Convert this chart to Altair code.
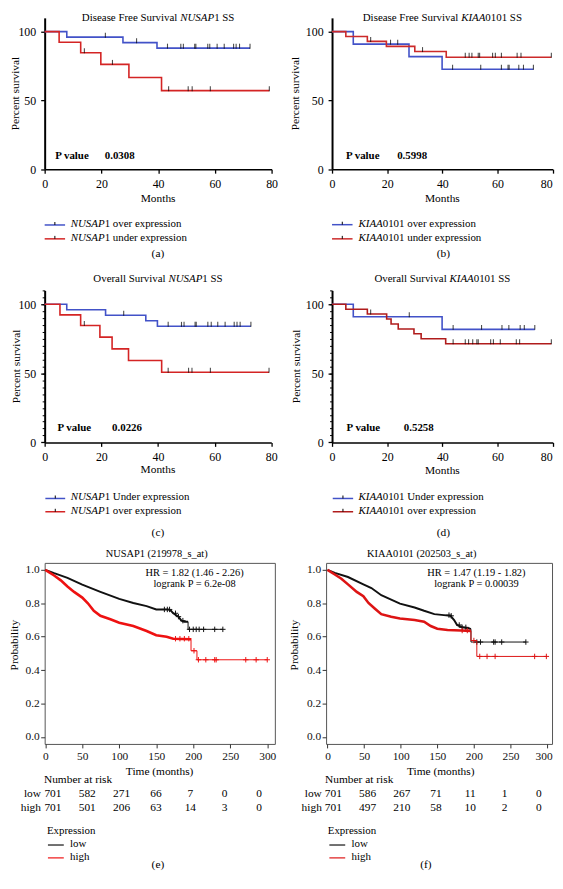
import altair as alt
import pandas as pd

FONT = "Liberation Serif"
BLUE = "#4252c8"

# ---------------- (a) Disease Free Survival NUSAP1 ----------------
A_TITLE = [("Disease Free Survival ", 9.026, False), ("NUSAP", 3.111, True), ("1 SS", 1.862, False)]
A_BLUE_T = [0, 7.8, 27.6, 39.6, 72.4]
A_BLUE_S = [100, 96.0, 92.0, 88.0, 88.0]
A_BLUE_CENS = [21.4, 32.4, 43.3, 48.0, 48.9, 52.9, 53.3, 57.5, 58.2, 60.8, 63.3, 66.6, 67.5, 68.7, 72.4]
A_RED_T = [0, 5.1, 12.7, 19.8, 29.7, 41.2, 79.2]
A_RED_S = [100, 92.3, 84.6, 76.2, 66.7, 57.1, 57.1]
A_RED_CENS = [14.0, 23.9, 43.7, 50.6, 52.0, 58.4, 79.2]
A_LEGEND = [("NUSAP", 3.111, "1 over expression"), ("NUSAP", 3.111, "1 under expression")]
A_P = "0.0308"

# ---------------- (b) Disease Free Survival KIAA0101 ----------------
B_TITLE = [("Disease Free Survival ", 9.026, False), ("KIAA", 2.222, True), ("0101 SS", 3.362, False)]
B_BLUE_T = [0, 7.7, 27.9, 39.9, 73.0]
B_BLUE_S = [100, 90.9, 81.8, 72.7, 72.7]
B_BLUE_CENS = [21.2, 23.8, 43.7, 53.9, 61.4, 63.8, 64.2, 67.7, 69.4, 73.0]
B_RED_T = [0, 5.0, 12.8, 19.7, 30.0, 41.4, 79.5]
B_RED_S = [100, 96.4, 92.9, 89.3, 85.5, 81.4, 81.4]
B_RED_CENS = [14.0, 32.8, 48.3, 49.7, 50.7, 53.0, 53.5, 58.2, 59.2, 61.4, 67.1, 68.5, 79.5]
B_LEGEND = [("KIAA", 2.222, "0101 over expression"), ("KIAA", 2.222, "0101 under expression")]
B_P = "0.5998"

# ---------------- (c) Overall Survival NUSAP1 ----------------
C_TITLE = [("Overall Survival ", 6.888, False), ("NUSAP", 3.111, True), ("1 SS", 1.862, False)]
C_BLUE_T = [0, 7.8, 21.5, 35.7, 39.8, 72.8]
C_BLUE_S = [100, 96.0, 92.0, 88.0, 84.0, 84.0]
C_BLUE_CENS = [27.9, 43.6, 48.3, 49.2, 53.1, 53.5, 57.6, 58.8, 61.1, 63.7, 66.9, 67.9, 69.0, 72.8]
C_RED_T = [0, 5.4, 12.7, 19.5, 23.8, 29.6, 41.3, 79.2]
C_RED_S = [100, 92.3, 84.6, 76.2, 67.7, 59.3, 50.8, 50.8]
C_RED_CENS = [14.0, 43.6, 50.8, 52.0, 58.5, 79.2]
C_LEGEND = [("NUSAP", 3.111, "1 Under expression"), ("NUSAP", 3.111, "1 over expression")]
C_P = "0.0226"

# ---------------- (d) Overall Survival KIAA0101 ----------------
D_TITLE = [("Overall Survival ", 6.888, False), ("KIAA", 2.222, True), ("0101 SS", 3.362, False)]
D_BLUE_T = [0, 7.7, 39.9, 73.5]
D_BLUE_S = [100, 90.9, 81.8, 81.8]
D_BLUE_CENS = [28.0, 43.9, 54.2, 61.6, 64.1, 68.2, 69.7, 73.5]
D_RED_T = [0, 5.0, 12.8, 19.8, 21.4, 24.0, 29.7, 32.3, 41.2, 79.5]
D_RED_S = [100, 96.4, 92.9, 89.3, 85.7, 82.1, 78.6, 75.0, 71.4, 71.4]
D_RED_CENS = [14.0, 43.9, 48.3, 49.5, 51.0, 52.5, 53.0, 57.5, 58.5, 61.0, 66.8, 68.0, 79.5]
D_LEGEND = [("KIAA", 2.222, "0101 Under expression"), ("KIAA", 2.222, "0101 over expression")]
D_P = "0.5258"

# ---------------- (e) NUSAP1 (219978_s_at) ----------------
E_TITLE = "NUSAP1 (219978_s_at)"
E_HR = ["HR = 1.82 (1.46 - 2.26)", "logrank P = 6.2e-08"]
E_LOW_T = [0, 12, 30, 50, 74.5, 100, 119, 137, 150, 166, 170, 173, 180, 184, 188, 193]
E_LOW_S = [1.0, 0.98, 0.952, 0.911, 0.868, 0.826, 0.802, 0.783, 0.763, 0.763, 0.755, 0.74, 0.72, 0.696, 0.69, 0.69]
E_LOW_TAIL_T = [193, 193, 240]
E_LOW_TAIL_S = [0.69, 0.644, 0.644]
E_LOW_CENS = [161, 165, 168, 176, 180, 186, 195, 200, 204, 208, 214, 229, 240]
E_HIGH_T = [0, 12, 21, 30, 39, 50, 57.6, 65.6, 74.5, 88, 100, 119, 137, 150, 164, 173, 197]
E_HIGH_S = [1.0, 0.966, 0.937, 0.90, 0.868, 0.834, 0.80, 0.755, 0.725, 0.704, 0.684, 0.664, 0.634, 0.609, 0.60, 0.588, 0.585]
E_HIGH_TAIL_T = [197, 197, 205, 205, 300]
E_HIGH_TAIL_S = [0.585, 0.516, 0.516, 0.462, 0.462]
E_HIGH_CENS = [176, 182, 188, 194, 201, 207, 217, 229, 231, 271, 285, 300]
RISK_T = [0, 50, 100, 150, 200, 250, 300]
E_RISK_LOW = [701, 582, 271, 66, 7, 0, 0]
E_RISK_HIGH = [701, 501, 206, 63, 14, 3, 0]

# ---------------- (f) KIAA0101 (202503_s_at) ----------------
F_TITLE = "KIAA0101 (202503_s_at)"
F_HR = ["HR = 1.47 (1.19 - 1.82)", "logrank P = 0.00039"]
F_LOW_T = [0, 10, 28, 49, 60, 73.5, 87, 99, 119, 132, 146, 159, 168, 173, 177, 184, 193, 196]
F_LOW_S = [1.0, 0.982, 0.957, 0.913, 0.891, 0.848, 0.822, 0.798, 0.775, 0.755, 0.735, 0.729, 0.725, 0.70, 0.67, 0.656, 0.65, 0.645]
F_LOW_TAIL_T = [196, 196, 271]
F_LOW_TAIL_S = [0.645, 0.568, 0.568]
F_LOW_CENS = [166, 169, 180, 184, 189, 204, 209, 227, 229, 238, 271]
F_HIGH_T = [0, 10, 19, 28, 40, 49, 56, 64.5, 73.5, 87, 99, 119, 132, 141, 150, 164, 182, 196]
F_HIGH_S = [1.0, 0.972, 0.947, 0.913, 0.868, 0.842, 0.802, 0.769, 0.735, 0.719, 0.709, 0.70, 0.69, 0.664, 0.648, 0.64, 0.637, 0.635]
F_HIGH_TAIL_T = [196, 196, 204, 204, 299]
F_HIGH_TAIL_S = [0.635, 0.577, 0.577, 0.482, 0.482]
F_HIGH_CENS = [184, 191, 200, 208, 218, 229, 283, 299]
F_RISK_LOW = [701, 586, 267, 71, 11, 1, 0]
F_RISK_HIGH = [701, 497, 210, 58, 10, 2, 0]


# ---------------- helpers ----------------
def one(label):
    return pd.DataFrame({"label": [label]})


def txt(label, x, y, size=11.0, align="left", baseline="alphabetic",
        style="normal", weight="normal", angle=0, color="black"):
    return alt.Chart(one(label)).mark_text(
        font=FONT, fontSize=size, align=align, baseline=baseline,
        fontStyle=style, fontWeight=weight, angle=angle, color=color
    ).encode(text="label:N", x=alt.value(x), y=alt.value(y))


def frame(L, T, R, B):
    return alt.Chart(one("")).mark_rule(opacity=0).encode(
        x=alt.value(L), x2=alt.value(R), y=alt.value(T), y2=alt.value(B))


def hline(x0, x1, y, color, width=1.5):
    return alt.Chart(one("")).mark_rule(color=color, strokeWidth=width).encode(
        x=alt.value(x0), x2=alt.value(x1), y=alt.value(y))


def vline(x, y0, y1, color="black", width=1.0):
    return alt.Chart(one("")).mark_rule(color=color, strokeWidth=width).encode(
        x=alt.value(x), y=alt.value(y0), y2=alt.value(y1))


def level(ts, ss, c):
    v = ss[0]
    for t, s in zip(ts, ss):
        if t <= c:
            v = s
    return v


def last_label_offset(value, shift):
    return {"condition": {"test": "datum.value === %s" % value, "value": shift}, "value": 0}


# ---------------- top KM panels (a)-(d) ----------------
def top_panel(g, title, blue, red, red_color, legend, pval, plabel, minor):
    W, H = g["W"], g["H"]
    xs = alt.Scale(domain=[0, 80], nice=False, zero=False)
    ys = alt.Scale(domain=[0, 110], nice=False, zero=False)
    common = dict(title=None, grid=False, labelFont=FONT, labelFontSize=12,
                  labelColor="black", labelFlush=False, labelOverlap=False,
                  tickColor="black", tickWidth=1.3, domainColor="black")
    xaxis = alt.Axis(values=[0, 20, 40, 60, 80], tickSize=4, labelPadding=5,
                     domainWidth=1.5, labelOffset=last_label_offset(80, g["last_shift"]),
                     **common)
    yaxis = alt.Axis(values=[0, 50, 100], tickSize=4, labelPadding=5,
                     domainWidth=2, **common)
    minor_axis = alt.Axis(values=list(range(0, 111, 5)), labels=False, domain=False,
                          tickSize=2.5, tickColor="black", tickWidth=1, grid=False,
                          title=None, orient="left")

    def Y(ax_major, ax_minor_layer=False):
        if minor:
            if ax_minor_layer:
                return alt.Y("s:Q", scale=ys, axis=minor_axis)
            return alt.Y("s:Q", scale=ys, axis=yaxis if ax_major else None)
        return alt.Y("s:Q", scale=ys, axis=yaxis)

    X = alt.X("t:Q", scale=xs, axis=xaxis)

    bt, bs, bc = blue
    rt, rs, rc = red
    layers = [frame(*g["frame"])]
    layers.append(alt.Chart(pd.DataFrame({"t": bt, "s": bs})).mark_line(
        interpolate="step-after", color=BLUE, strokeWidth=1.6).encode(x=X, y=Y(True)))
    layers.append(alt.Chart(pd.DataFrame({"t": rt, "s": rs})).mark_line(
        interpolate="step-after", color=red_color, strokeWidth=1.6).encode(
        x=X, y=Y(False, True)))
    for ts, ss, cs in ((bt, bs, bc), (rt, rs, rc)):
        cdf = pd.DataFrame({"t": cs, "s": [level(ts, ss, c) for c in cs]})
        layers.append(alt.Chart(cdf).mark_tick(
            orient="vertical", size=5, thickness=1.1, color="black", yOffset=-2).encode(
            x=X, y=Y(False)))

    # title with italic gene name
    total = sum(em for _, em, _ in title) * 11
    x = W / 2 - total / 2
    for text, em, it in title:
        layers.append(txt(text, x, g["title_y"], 11, style="italic" if it else "normal"))
        x += em * 11

    layers.append(txt("Percent survival", g["ytitle_x"], H / 2, 11.5, align="center",
                      baseline="middle", angle=270))
    layers.append(txt("Months", W / 2, g["months_y"], 11.5, align="center", baseline="middle"))
    layers.append(txt("P value", g["p_x"], g["p_y"], 11, weight="bold"))
    layers.append(txt(pval, g["pv_x"], g["p_y"], 11, weight="bold"))

    x0, x1 = g["leg_line"]
    for k, ((gene, gem, rest), color) in enumerate(zip(legend, [BLUE, red_color])):
        y = g["leg_y"][k]
        layers.append(hline(x0, x1, y + 1, color, 1.5))
        layers.append(vline((x0 + x1) / 2, y - 2, y + 1, "black", 1))
        layers.append(txt(gene, g["leg_text"], y, 11, baseline="middle", style="italic"))
        layers.append(txt(rest, g["leg_text"] + gem * 11, y, 11, baseline="middle"))

    layers.append(txt(plabel, g["label_x"], g["label_y"], 11.5, align="center", baseline="middle"))

    ch = alt.layer(*layers)
    if minor:
        ch = ch.resolve_axis(y="independent")
    return ch.properties(width=W, height=H,
                         view=alt.ViewBackground(stroke="transparent", strokeWidth=0))


# ---------------- bottom KM panels (e)-(f) ----------------
def big_panel(g, title, hr, low, high, high_color, risk_low, risk_high, plabel):
    W, H = g["W"], g["H"]
    xs = alt.Scale(domain=g["xdom"], nice=False, zero=False)
    ys = alt.Scale(domain=[-0.0415, 1.0415], nice=False, zero=False)
    common = dict(title=None, grid=False, domain=False, labelFont=FONT, labelFontSize=11.5,
                  labelColor="#111111", labelFlush=False, labelOverlap=False,
                  tickColor="#333333", tickWidth=1, tickSize=4)
    xaxis = alt.Axis(values=[0, 50, 100, 150, 200, 250, 300], labelPadding=3,
                     labelOffset=last_label_offset(300, g["last_shift"]), **common)
    yaxis = alt.Axis(values=[0.0, 0.2, 0.4, 0.6, 0.8, 1.0], format=".1f", labelPadding=1.5, **common)
    X = alt.X("t:Q", scale=xs, axis=xaxis)
    Y = alt.Y("s:Q", scale=ys, axis=yaxis)

    layers = [frame(*g["frame"])]
    for (mt, ms, tt, tsv, cens), color, w in ((low, "#111111", 2.0), (high, high_color, 2.6)):
        main = pd.DataFrame({"t": mt, "s": ms, "i": list(range(len(mt)))})
        tail = pd.DataFrame({"t": tt, "s": tsv, "i": list(range(len(tt)))})
        allt, alls = list(mt) + list(tt), list(ms) + list(tsv)
        cdf = pd.DataFrame({"t": cens, "s": [level(allt, alls, c) for c in cens]})
        layers.append(alt.Chart(main).mark_line(color=color, strokeWidth=w).encode(
            x=X, y=Y, order="i:Q"))
        layers.append(alt.Chart(tail).mark_line(color=color, strokeWidth=1).encode(
            x=X, y=Y, order="i:Q"))
        layers.append(alt.Chart(cdf).mark_point(
            shape="M-1,0L1,0M0,-1L0,1", size=30, filled=False, strokeWidth=1,
            color=color, opacity=1).encode(x=X, y=Y))

    layers.append(txt(title, g["title_x"], -9, 10.5, align="center", baseline="middle"))
    layers.append(txt(hr[0], g["hr_x"], 10.4, 10.5, align="center", baseline="middle"))
    layers.append(txt(hr[1], g["hr_x"], 21, 10.5, align="center", baseline="middle"))
    layers.append(txt("Probability", g["ytitle_x"], 83, 11.5, align="center",
                      baseline="middle", angle=270))
    layers.append(txt("Time (months)", g["time_x"], 210.7, 11.5, align="center", baseline="middle"))
    layers.append(txt("Number at risk", g["nar_x"], 219.4, 11.5, baseline="middle"))
    layers.append(txt("low", g["rowlab_x"], 233.7, 11.5, align="right", baseline="middle"))
    layers.append(txt("high", g["rowlab_x"], 247.7, 11.5, align="right", baseline="middle"))
    layers.append(txt("Expression", g["expr_x"], 270.7, 11, baseline="middle"))
    x0, x1 = g["legline"]
    for name, color, y in (("low", "#111111", 283.7), ("high", high_color, 296.7)):
        layers.append(hline(x0, x1, y + 1, color, 1.2))
        layers.append(txt(name, g["legtext"], y, 11, baseline="middle"))
    layers.append(txt(plabel, g["label_x"], 304.7, 11.5, align="center", baseline="middle"))

    rdf = pd.DataFrame({"t": RISK_T, "low": [str(v) for v in risk_low],
                        "high": [str(v) for v in risk_high]})
    rx = alt.X("t:Q", scale=alt.Scale(domain=g["riskdom"], nice=False, zero=False), axis=None)
    r1 = alt.Chart(rdf).mark_text(font=FONT, fontSize=11.5, baseline="middle", align="center",
                                  color="black").encode(x=rx, y=alt.value(233.7), text="low:N")
    r2 = alt.Chart(rdf).mark_text(font=FONT, fontSize=11.5, baseline="middle", align="center",
                                  color="black").encode(x=rx, y=alt.value(247.7), text="high:N")
    risk = alt.layer(r1, r2)

    return alt.layer(alt.layer(*layers), risk).resolve_scale(x="independent").properties(
        width=W, height=H, view=alt.ViewBackground(stroke="#555555", strokeWidth=1))


# ---------------- geometry (pixels relative to each plot's top-left) ----------------
GA = dict(W=229, H=152.7, frame=(-34.7, -6, 239.3, 248), title_y=3, ytitle_x=-28.7,
          months_y=183, p_x=10.6, pv_x=60.6, p_y=142.7, leg_line=(0, 20.6), leg_text=26.3,
          leg_y=(208, 222), label_x=114.3, label_y=238, last_shift=0)
GB = dict(W=222.7, H=152.7, frame=(-49.3, -6, 223.7, 248), title_y=3, ytitle_x=-36,
          months_y=183.3, p_x=14, pv_x=65.7, p_y=142.7, leg_line=(0, 20.7), leg_text=26.7,
          leg_y=(207.7, 222), label_x=112.4, label_y=238, last_shift=-6.5)
GC = dict(W=228.7, H=153.4, frame=(-34, -26.3, 240, 253.7), title_y=-8, ytitle_x=-28,
          months_y=181.7, p_x=13, pv_x=68, p_y=142.4, leg_line=(0.7, 20.7), leg_text=26.3,
          leg_y=(209, 222.4), label_x=114.3, label_y=244.7, last_shift=0)
GD = dict(W=222.7, H=153.4, frame=(-49.3, -26.3, 223.7, 253.7), title_y=-8, ytitle_x=-35.3,
          months_y=182.4, p_x=14.7, pv_x=72.4, p_y=142.4, leg_line=(0.7, 21.3), leg_text=26.7,
          leg_y=(209, 222.4), label_x=112.4, label_y=244.7, last_shift=-6.5)
GE = dict(W=232.3, H=182.7, frame=(-35.7, -20.3, 238.3, 309.7), xdom=[-0.8, 310.3],
          riskdom=[-12, 323], title_x=113, hr_x=151.3, ytitle_x=-29.7, nar_x=-0.7,
          rowlab_x=-3.7, expr_x=2.3, legline=(3.3, 19.3), legtext=25.6, label_x=114.3,
          time_x=116, last_shift=0)
GF = dict(W=228, H=182.7, frame=(-44.3, -20.3, 228.7, 309.7), xdom=[-1.9, 306.75],
          riskdom=[-10.6, 319.4], title_x=96.5, hr_x=151.7, ytitle_x=-31, nar_x=-1,
          rowlab_x=-4.3, expr_x=1.7, legline=(3.3, 19.3), legtext=25.6, label_x=100.7,
          time_x=115.7, last_shift=-3.5)

pa = top_panel(GA, A_TITLE, (A_BLUE_T, A_BLUE_S, A_BLUE_CENS), (A_RED_T, A_RED_S, A_RED_CENS),
               "#d42424", A_LEGEND, A_P, "(a)", False)
pb = top_panel(GB, B_TITLE, (B_BLUE_T, B_BLUE_S, B_BLUE_CENS), (B_RED_T, B_RED_S, B_RED_CENS),
               "#cc2a2a", B_LEGEND, B_P, "(b)", False)
pc = top_panel(GC, C_TITLE, (C_BLUE_T, C_BLUE_S, C_BLUE_CENS), (C_RED_T, C_RED_S, C_RED_CENS),
               "#d42424", C_LEGEND, C_P, "(c)", True)
pd_ = top_panel(GD, D_TITLE, (D_BLUE_T, D_BLUE_S, D_BLUE_CENS), (D_RED_T, D_RED_S, D_RED_CENS),
                "#b01c1c", D_LEGEND, D_P, "(d)", True)
pe = big_panel(GE, E_TITLE, E_HR,
               (E_LOW_T, E_LOW_S, E_LOW_TAIL_T, E_LOW_TAIL_S, E_LOW_CENS),
               (E_HIGH_T, E_HIGH_S, E_HIGH_TAIL_T, E_HIGH_TAIL_S, E_HIGH_CENS),
               "#ee1111", E_RISK_LOW, E_RISK_HIGH, "(e)")
pf = big_panel(GF, F_TITLE, F_HR,
               (F_LOW_T, F_LOW_S, F_LOW_TAIL_T, F_LOW_TAIL_S, F_LOW_CENS),
               (F_HIGH_T, F_HIGH_S, F_HIGH_TAIL_T, F_HIGH_TAIL_S, F_HIGH_CENS),
               "#dd1414", F_RISK_LOW, F_RISK_HIGH, "(f)")

chart = alt.vconcat(
    alt.hconcat(pa, pb, spacing=0),
    alt.hconcat(pc, pd_, spacing=0),
    alt.hconcat(pe, pf, spacing=0),
    spacing=0,
).properties(padding=0).configure_view(stroke=None).configure(font=FONT)

chart.save("out.html", embed_options={"renderer": "svg", "actions": False})
